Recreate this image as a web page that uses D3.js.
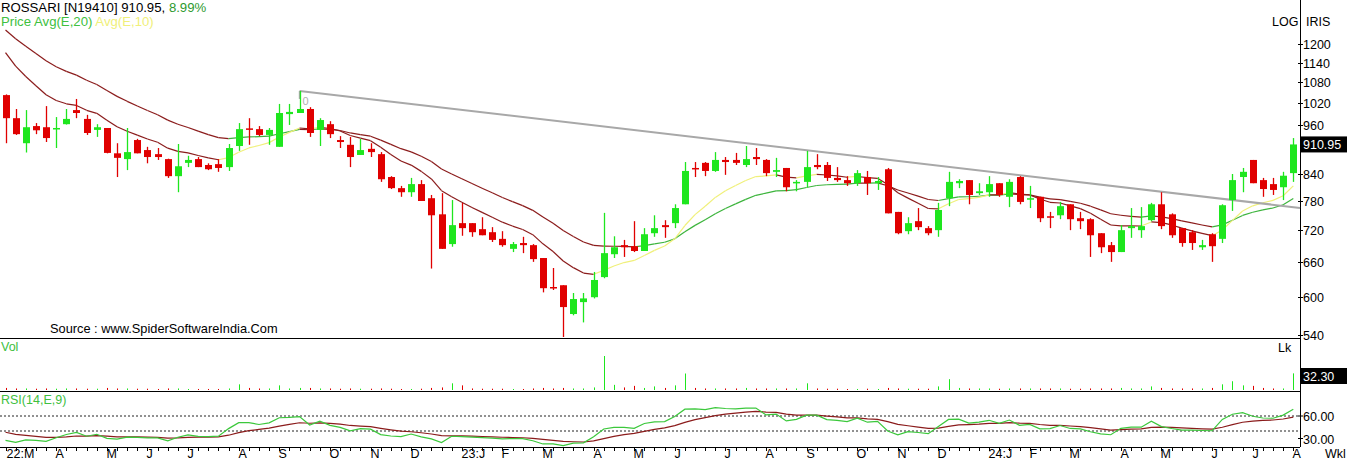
<!DOCTYPE html>
<html><head><meta charset="utf-8">
<script src="https://cdn.jsdelivr.net/npm/d3@7/dist/d3.min.js"></script>
<style>
body{margin:0;background:#fff;}
svg{display:block;font-family:"Liberation Sans",Arial,sans-serif;}
</style>
</head><body>
<svg id="chart" width="1348" height="462"></svg>
<script>
// ---- Data (weekly, ROSSARI) ----
const startDate = "2022-02-25";
const opens  = [1043,979,914,958,955,950,963,1001,977,948, 953,889,875,922,897,887,875,835,866,875, 861,863,856,907,952,950,935,905,990,993,
 1004,948,963,922,910,885,900,887,833,808, 799,817,786,752,693,734,734,722,716,703, 684,695,691,667,616,619,572,591,599,633,
 674,691,689,680,714,730,734,773,854,866, 847,873,873,861,880,873,845,854,819,822, 861,861,831,826,819,833,819,851,757,718,
 738,724,720,786,819,826,797,799,819,789, 833,784,789,748,750,773,744,742,714,691, 678,724,720,740,773,752,724,716,687,712,
 703,782,833,873,826,817,810,842];
const highs  = [1045,1004,1001,966,1012,982,1004,1032,988,963, 953,914,953,925,905,902,876,912,883,880, 865,875,912,966,979,958,953,1018,1018,1055,
 1009,979,971,932,930,925,914,892,835,813, 831,826,793,797,782,776,734,746,726,718, 697,707,693,667,649,619,606,606,642,755,
 708,701,738,724,750,740,773,868,868,868, 892,880,890,907,902,875,878,854,826,895, 887,868,856,835,849,847,833,854,757,746,
 765,728,776,845,828,826,819,835,819,828, 835,813,789,757,778,773,757,744,714,697, 730,765,767,776,799,754,724,720,701,714,
 773,840,854,873,831,831,845,927];
const lows   = [914,935,891,937,917,902,962,979,935,930, 889,833,849,889,865,873,831,799,856,856, 849,845,847,895,910,932,910,905,961,993,
 930,907,927,902,856,885,880,822,806,789, 789,780,648,684,688,709,707,710,697,688, 678,676,660,607,611,537,570,559,597,631,
 667,669,678,680,707,705,724,773,833,835, 845,838,861,856,861,835,833,801,801,810, 851,824,822,813,813,793,804,754,712,712,
 720,710,707,769,808,773,793,789,789,767, 773,765,736,724,742,720,722,669,676,660, 678,705,705,738,722,705,688,682,682,660,
 695,759,799,819,789,793,782,822];
const closes = [979,937,955,947,927,953,977,993,940,955, 890,878,892,889,880,880,835,858,873,856, 851,854,902,950,950,935,948,993,996,1004,
 940,974,937,917,880,897,892,828,808,799, 817,780,750,684,730,724,716,710,701,691, 693,691,665,614,614,583,596,597,628,676,
 687,687,680,712,724,726,765,847,851,847, 873,868,866,875,875,842,849,810,822,856, 856,831,826,819,842,819,824,754,714,734,
 726,714,761,822,824,793,801,817,793,822, 778,786,744,746,769,742,738,710,687,678, 720,728,728,773,728,710,695,695,691,689,
 771,826,845,819,806,804,836,910.95];
// volume in lakh shares
const volumes = [4,3,3,2.5,3,2.5,3,3,2.5,2.5, 4,3,3,2.5,2.5,2,3,3,2,2, 2,2,3,11,4,3,3,9,3,4,
 4,3,3,2.5,3,2.5,2.5,3,2.5,2, 2,2.5,4,5,13,9,3,2.5,2.5,2.5, 2,2,3,4,3,4,3,3,5,66,
 10,5,8,4,7,4,9,32,4,3, 3,3,3,4,3,3,3,3,3,13, 3,2.5,2.5,2,2,2.5,2,4,3,2.5,
 2.5,2.5,7,21,4,3,3,3,2.5,3, 3,3,3,3,3,2.5,2.5,3,3,3, 4,3,3,7,4,3,3,3,3,4,
 11,17,9,8,4,3,3,32.3];
// seeds of the indicators before the first visible week
const ema10Seed = 1215, ema20Seed = 1275;
const rsiSeed = {prevClose:1040, avgGain:9, avgLoss:19, signal:41};
// trendline anchors (week index, price)
const trendIdx = [29, 127];
const trendPrice = [1055, 767];
const priceTicks = [1200,1140,1080,1020,960,840,780,720,660,600,540];
const rsiTicks = [60,30];
const rsiLevels = [60,40];

// ---- Derived indicators ----
function ema(arr, n, seed){ const a=2/(n+1); let p=seed; return arr.map(v=>(p=p+a*(v-p))); }
const ema10 = ema(closes,10,ema10Seed);
const ema20 = ema(closes,20,ema20Seed);
const rsi = (()=>{ let pc=rsiSeed.prevClose, g=rsiSeed.avgGain, l=rsiSeed.avgLoss;
  return closes.map(c=>{ const d=c-pc; pc=c; g=(g*13+Math.max(d,0))/14; l=(l*13+Math.max(-d,0))/14; return 100-100/(1+g/l); }); })();
const rsiSig = ema(rsi,9,rsiSeed.signal);

// ---- Layout ----
const svg = d3.select("#chart");
const W=1348, axisX=1300;
const priceBot=338, volBot=391, rsiBot=447;
const n = closes.length;
const x = d3.scaleLinear().domain([0,n-1]).range([5.5,1293.3]);
const y = d3.scaleLog().domain([540,1200]).range([335,44]);
const yV = d3.scaleLinear().domain([0,d3.max(volumes)]).range([390,356]);
const yR = d3.scaleLinear().domain([40,60]).range([431,416]);
const UP="#1ee61e", DN="#e00000", MAROON="#8b1c1c";

// panel frames
svg.append("rect").attr("width",W).attr("height",462).attr("fill","#fff");
[priceBot,volBot,rsiBot].forEach(v=>svg.append("line").attr("x1",0).attr("x2",axisX).attr("y1",v+0.5).attr("y2",v+0.5).attr("stroke","#000"));
svg.append("line").attr("x1",axisX+0.5).attr("x2",axisX+0.5).attr("y1",0).attr("y2",rsiBot).attr("stroke","#000");

// price axis
priceTicks.forEach(t=>{
  const yy=Math.round(y(t))+0.5;
  svg.append("line").attr("x1",axisX-2).attr("x2",axisX+3).attr("y1",yy).attr("y2",yy).attr("stroke","#000");
  svg.append("text").attr("x",axisX+3).attr("y",yy+4.5).attr("font-size",12.5).attr("fill","#000").text(t);
});
svg.append("text").attr("x",1272).attr("y",26).attr("font-size",12.5).text("LOG");
svg.append("text").attr("x",1306).attr("y",26).attr("font-size",12.5).text("IRIS");

// EMA lines coloured by direction
function drawEma(vals, upColor){
  for(let i=1;i<n;i++){
    svg.append("line").attr("x1",x(i-1)).attr("y1",y(vals[i-1])).attr("x2",x(i)).attr("y2",y(vals[i]))
      .attr("stroke", vals[i]>=vals[i-1]?upColor:MAROON).attr("stroke-width",1.2);
  }
}
drawEma(ema20,"#3cb43c");
drawEma(ema10,"#f0f07a");

// trendline
const tSlope=(y(trendPrice[1])-y(trendPrice[0]))/(x(trendIdx[1])-x(trendIdx[0]));
const tx0=x(trendIdx[0]), ty0=y(trendPrice[0]);
svg.append("line").attr("x1",tx0).attr("y1",ty0).attr("x2",axisX).attr("y2",ty0+tSlope*(axisX-tx0))
  .attr("stroke","#a8a8a8").attr("stroke-width",2);
svg.append("line").attr("x1",tx0).attr("y1",ty0).attr("x2",tx0).attr("y2",ty0+8).attr("stroke","#a8a8a8").attr("stroke-width",1.5);
svg.append("text").attr("x",tx0+3).attr("y",ty0+14).attr("font-size",11).attr("fill","#b0b0b0").text("0");

// candles
const g = svg.append("g");
closes.forEach((c,i)=>{
  const o=opens[i], col=c>=o?UP:DN, cx=Math.round(x(i))+0.5;
  g.append("line").attr("x1",cx).attr("x2",cx).attr("y1",y(highs[i])).attr("y2",y(lows[i])).attr("stroke",col).attr("stroke-width",1.3);
  const top=y(Math.max(o,c)), bot=y(Math.min(o,c));
  g.append("rect").attr("x",cx-3.5).attr("y",top).attr("width",7).attr("height",Math.max(bot-top,1.5)).attr("fill",col);
});

// price label
svg.append("rect").attr("x",axisX+1).attr("y",y(closes[n-1])-8).attr("width",46).attr("height",16).attr("fill","#000");
svg.append("text").attr("x",axisX+3).attr("y",y(closes[n-1])+4.5).attr("font-size",12.5).attr("fill","#fff").text(closes[n-1].toFixed(2));

// header
const h=svg.append("text").attr("x",1).attr("y",12).attr("font-size",13.2);
h.append("tspan").attr("fill","#000").text("ROSSARI [N19410]  910.95,  ");
h.append("tspan").attr("fill","#2e9a2e").text("8.99%");
const h2=svg.append("text").attr("x",1).attr("y",26).attr("font-size",13.2);
h2.append("tspan").attr("fill","#40c040").text("Price  Avg(E,20)  ");
h2.append("tspan").attr("fill","#f0f07a").text("Avg(E,10)");
svg.append("text").attr("x",50).attr("y",333).attr("font-size",12.8).attr("fill","#000").text("Source : www.SpiderSoftwareIndia.Com");

// volume
svg.append("text").attr("x",1).attr("y",351).attr("font-size",12.5).attr("fill","#40c040").text("Vol");
svg.append("text").attr("x",1278).attr("y",352).attr("font-size",12.5).attr("fill","#000").text("Lk");
volumes.forEach((v,i)=>{
  const cx=Math.round(x(i))+0.5;
  svg.append("line").attr("x1",cx).attr("x2",cx).attr("y1",390).attr("y2",yV(v)).attr("stroke",closes[i]>=opens[i]?UP:DN).attr("stroke-width",1);
});
svg.append("rect").attr("x",axisX+1).attr("y",368).attr("width",46).attr("height",16).attr("fill","#000");
svg.append("text").attr("x",axisX+3).attr("y",380.5).attr("font-size",12.5).attr("fill","#fff").text(volumes[n-1].toFixed(2));

// RSI
svg.append("text").attr("x",1).attr("y",404).attr("font-size",12.5).attr("fill","#40c040").text("RSI(14,E,9)");
rsiLevels.forEach(l=>svg.append("line").attr("x1",0).attr("x2",axisX).attr("y1",yR(l)).attr("y2",yR(l)).attr("stroke","#222").attr("stroke-dasharray","2,2"));
rsiTicks.forEach(t=>{
  svg.append("line").attr("x1",axisX-2).attr("x2",axisX+3).attr("y1",yR(t)).attr("y2",yR(t)).attr("stroke","#000");
  svg.append("text").attr("x",axisX+3).attr("y",yR(t)+5).attr("font-size",12.5).text(t.toFixed(2));
});
const ln=d3.line().x((d,i)=>x(i)).y(d=>yR(d));
svg.append("path").attr("d",ln(rsiSig)).attr("fill","none").attr("stroke",MAROON).attr("stroke-width",1.2);
svg.append("path").attr("d",ln(rsi)).attr("fill","none").attr("stroke","#3cc83c").attr("stroke-width",1.2);

// time axis
const t0=new Date(startDate+"T00:00:00");
const dates=d3.range(n).map(i=>d3.timeDay.offset(t0,7*i));
const mon=["J","F","M","A","M","J","J","A","S","O","N","D"];
dates.forEach((d,i)=>{
  const cx=Math.round(x(i))+0.5;
  svg.append("line").attr("x1",cx).attr("x2",cx).attr("y1",rsiBot+1).attr("y2",rsiBot+4).attr("stroke","#000");
  if(i>0 && d.getMonth()!==dates[i-1].getMonth()){
    const m=d.getMonth();
    const lbl=(m===0||i===1)?String(d.getFullYear()).slice(2)+":"+mon[m]:mon[m];
    svg.append("text").attr("x",i===1?cx-10:cx-1).attr("y",458).attr("font-size",12.5).attr("text-anchor","start").text(lbl);
  }
});
svg.append("text").attr("x",1325).attr("y",458).attr("font-size",12.5).text("Wkl");
</script>
</body></html>
